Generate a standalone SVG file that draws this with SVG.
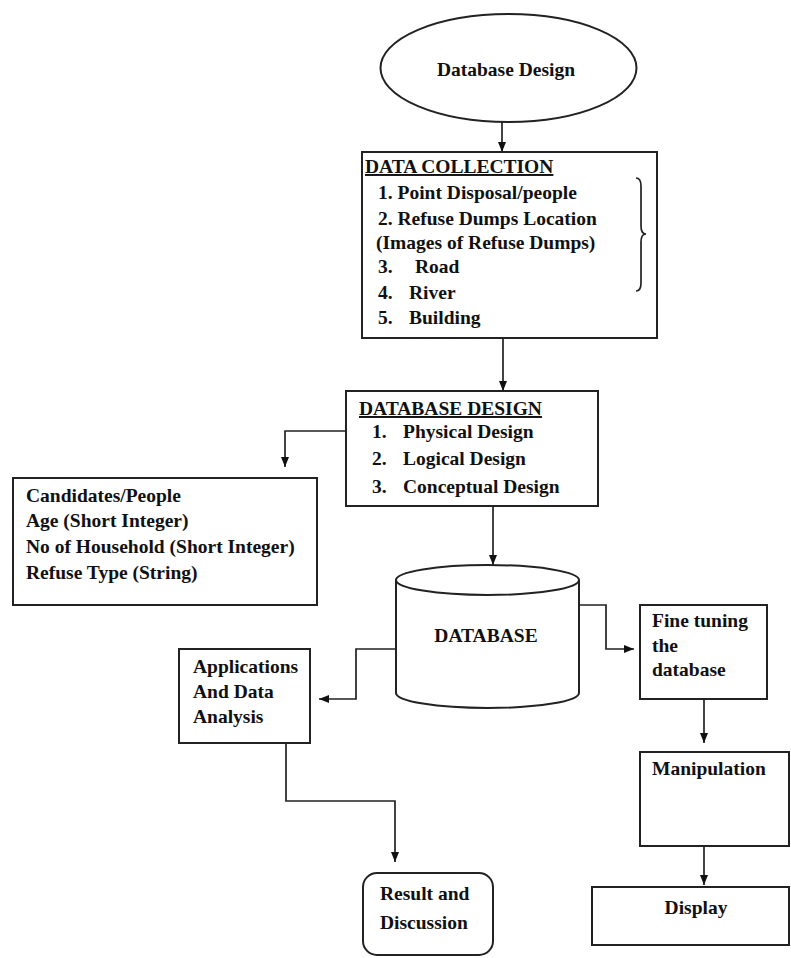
<svg xmlns="http://www.w3.org/2000/svg" width="791" height="958" viewBox="0 0 791 958">
<style>
.box{fill:#fff;stroke:#222;stroke-width:2}
.con{fill:none;stroke:#222;stroke-width:1.7}
text{font-family:"Liberation Serif","Times New Roman",serif;font-weight:bold;font-size:19.5px;fill:#111}
.u{text-decoration:underline}
</style>
<defs>
<marker id="ah" markerUnits="userSpaceOnUse" markerWidth="10" markerHeight="10" viewBox="0 0 10 10" refX="10" refY="5" orient="auto">
<path d="M0,1 L10,5 L0,9 z" fill="#111"/>
</marker>
</defs>
<rect width="791" height="958" fill="#fff"/>
<g id="connectors">
<path class="con" d="M502,122 L502,152" marker-end="url(#ah)"/>
<path class="con" d="M503,338 L503,391" marker-end="url(#ah)"/>
<path class="con" d="M346,431 L285,431 L285,467" marker-end="url(#ah)"/>
<path class="con" d="M493,506 L493,565" marker-end="url(#ah)"/>
<path class="con" d="M396,649 L356,649 L356,699 L319,699" marker-end="url(#ah)"/>
<path class="con" d="M579,605 L606,605 L606,649 L634,649" marker-end="url(#ah)"/>
<path class="con" d="M704,699 L704,743" marker-end="url(#ah)"/>
<path class="con" d="M704,846 L704,885" marker-end="url(#ah)"/>
<path class="con" d="M286,743 L286,801 L395,801 L395,862" marker-end="url(#ah)"/>
</g>
<g id="start">
<ellipse class="box" cx="508.5" cy="68" rx="128" ry="54"/>
<text x="506" y="76" text-anchor="middle">Database Design</text>
</g>
<g id="data-collection">
<rect class="box" x="362" y="152" width="295" height="186"/>
<text class="u" x="365" y="173">DATA COLLECTION</text>
<text x="378" y="199">1. Point Disposal/people</text>
<text x="378" y="225">2. Refuse Dumps Location</text>
<text x="376" y="249">(Images of Refuse Dumps)</text>
<text x="378" y="273">3.</text><text x="415" y="273">Road</text>
<text x="378" y="299">4.</text><text x="409" y="299">River</text>
<text x="378" y="324">5.</text><text x="409" y="324">Building</text>
<path class="con" d="M636,178 Q641,178 641,186 L641,226 Q641,234 646,234 Q641,234 641,242 L641,283 Q641,291 636,291" stroke-width="1.4"/>
</g>
<g id="database-design">
<rect class="box" x="346" y="391" width="252" height="115"/>
<text class="u" x="359" y="415">DATABASE DESIGN</text>
<text x="372" y="438">1.</text><text x="403" y="438">Physical Design</text>
<text x="372" y="465">2.</text><text x="403" y="465">Logical Design</text>
<text x="372" y="493">3.</text><text x="403" y="493">Conceptual Design</text>
</g>
<g id="candidates">
<rect class="box" x="13" y="478" width="304" height="127"/>
<text x="26" y="502">Candidates/People</text>
<text x="26" y="527">Age (Short Integer)</text>
<text x="26" y="553">No of Household (Short Integer)</text>
<text x="26" y="579">Refuse Type (String)</text>
</g>
<g id="database">
<path class="box" d="M396,580 L396,693 A91.5,15 0 0 0 579,693 L579,580"/>
<ellipse class="box" cx="487.5" cy="580" rx="91.5" ry="15"/>
<text x="486" y="642" text-anchor="middle">DATABASE</text>
</g>
<g id="applications">
<rect class="box" x="179" y="649" width="131" height="94"/>
<text x="193" y="673">Applications</text>
<text x="193" y="698">And Data</text>
<text x="193" y="723">Analysis</text>
</g>
<g id="fine-tuning">
<rect class="box" x="640" y="605" width="127" height="94"/>
<text x="652" y="627">Fine tuning</text>
<text x="652" y="652">the</text>
<text x="652" y="676">database</text>
</g>
<g id="manipulation">
<rect class="box" x="640" y="752" width="149" height="94"/>
<text x="652" y="775">Manipulation</text>
</g>
<g id="display">
<rect class="box" x="592" y="887" width="197" height="58"/>
<text x="696" y="914" text-anchor="middle">Display</text>
</g>
<g id="result">
<rect class="box" x="363" y="873" width="130" height="82" rx="14"/>
<text x="380" y="900">Result and</text>
<text x="380" y="929">Discussion</text>
</g>
</svg>
